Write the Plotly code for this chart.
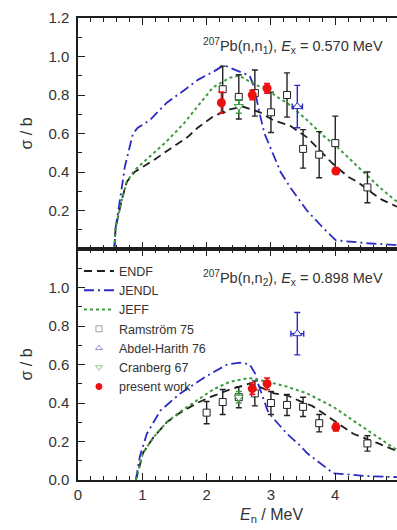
import plotly.graph_objects as go

# ---------------- evaluated cross sections, 207Pb(n,n1), Ex = 0.570 MeV
E_ENDF_N1 = [0.565, 0.585, 0.68, 0.76, 0.88, 1.17, 1.43, 1.70, 1.86, 2.11, 2.36, 2.56, 2.83, 3.03, 3.30, 3.56, 3.74, 3.94, 4.20, 4.34, 4.58, 4.73, 4.96]
S_ENDF_N1 = [0.0, 0.11, 0.255, 0.35, 0.40, 0.46, 0.52, 0.58, 0.63, 0.69, 0.725, 0.74, 0.71, 0.67, 0.64, 0.58, 0.52, 0.45, 0.375, 0.35, 0.29, 0.255, 0.22]

E_JEFF_N1 = [0.565, 0.585, 0.68, 0.76, 0.88, 1.12, 1.38, 1.64, 1.86, 2.10, 2.36, 2.51, 2.78, 2.95, 3.09, 3.25, 3.56, 3.81, 4.03, 4.34, 4.69, 4.96]
S_JEFF_N1 = [0.0, 0.11, 0.255, 0.35, 0.41, 0.48, 0.56, 0.65, 0.74, 0.84, 0.89, 0.90, 0.85, 0.83, 0.79, 0.76, 0.67, 0.59, 0.53, 0.43, 0.32, 0.245]

E_JENDL_N1 = [0.565, 0.585, 0.65, 0.73, 0.855, 0.93, 1.12, 1.38, 1.63, 1.87, 2.10, 2.27, 2.52, 2.67, 2.74, 2.82, 2.90, 3.00, 3.15, 3.30, 3.56, 3.81, 4.01, 4.50, 4.96]
S_JENDL_N1 = [0.0, 0.11, 0.25, 0.43, 0.60, 0.63, 0.67, 0.76, 0.82, 0.88, 0.92, 0.955, 0.92, 0.90, 0.84, 0.71, 0.60, 0.52, 0.40, 0.32, 0.20, 0.11, 0.045, 0.03, 0.02]

# ---------------- evaluated cross sections, 207Pb(n,n2), Ex = 0.898 MeV
E_ENDF_N2 = [0.90, 0.93, 1.01, 1.17, 1.38, 1.59, 1.85, 2.05, 2.36, 2.66, 2.85, 3.05, 3.25, 3.45, 3.64, 3.93, 4.28, 4.67, 4.96]
S_ENDF_N2 = [0.0, 0.04, 0.14, 0.22, 0.30, 0.35, 0.40, 0.43, 0.47, 0.50, 0.48, 0.45, 0.44, 0.41, 0.385, 0.32, 0.24, 0.19, 0.15]

E_JEFF_N2 = [0.90, 0.93, 1.01, 1.17, 1.38, 1.59, 1.85, 2.10, 2.36, 2.66, 2.95, 3.25, 3.56, 3.81, 3.97, 4.34, 4.65, 4.96]
S_JEFF_N2 = [0.0, 0.04, 0.14, 0.22, 0.30, 0.355, 0.415, 0.47, 0.51, 0.53, 0.51, 0.485, 0.45, 0.405, 0.38, 0.295, 0.225, 0.155]

E_JENDL_N2 = [0.90, 0.96, 1.07, 1.28, 1.59, 2.00, 2.32, 2.52, 2.67, 2.75, 2.80, 2.96, 3.25, 3.45, 3.56, 3.97, 4.50, 4.96]
S_JENDL_N2 = [0.0, 0.12, 0.24, 0.36, 0.45, 0.54, 0.60, 0.61, 0.60, 0.555, 0.50, 0.35, 0.24, 0.18, 0.14, 0.035, 0.02, 0.015]

# ---------------- measurements, (n,n1)
E_RAM_N1 = [2.25, 2.50, 2.75, 3.00, 3.25, 3.50, 3.75, 4.00, 4.50]
S_RAM_N1 = [0.83, 0.79, 0.81, 0.71, 0.80, 0.52, 0.49, 0.55, 0.32]
D_RAM_N1 = [0.12, 0.115, 0.12, 0.105, 0.115, 0.10, 0.12, 0.14, 0.08]

E_ABD_N1 = [3.41]
S_ABD_N1 = [0.74]
D_ABD_N1 = [0.11]
DE_ABD_N1 = [0.08]

E_CRA_N1 = [2.50]
S_CRA_N1 = [0.74]
D_CRA_N1 = [0.035]

E_PW_N1 = [2.23, 2.71, 2.94, 4.01]
S_PW_N1 = [0.76, 0.80, 0.835, 0.405]
D_PW_N1 = [0.055, 0.025, 0.025, 0.015]

# ---------------- measurements, (n,n2)
E_RAM_N2 = [2.00, 2.25, 2.50, 2.75, 3.00, 3.25, 3.50, 3.75, 4.50]
S_RAM_N2 = [0.35, 0.405, 0.43, 0.45, 0.40, 0.39, 0.38, 0.295, 0.19]
D_RAM_N2 = [0.058, 0.065, 0.055, 0.065, 0.06, 0.055, 0.05, 0.045, 0.04]

E_ABD_N2 = [3.41]
S_ABD_N2 = [0.76]
D_ABD_N2 = [0.11]
DE_ABD_N2 = [0.10]

E_CRA_N2 = [2.50]
S_CRA_N2 = [0.43]
D_CRA_N2 = [0.03]

E_PW_N2 = [2.71, 2.94, 4.01]
S_PW_N2 = [0.475, 0.50, 0.275]
D_PW_N2 = [0.03, 0.03, 0.02]

# tick labels
X_TICKS = [0, 1, 2, 3, 4, 5]
Y_TICKS_TOP = [0.2, 0.4, 0.6, 0.8, 1.0, 1.2]
Y_TICKS_BOTTOM = [0.0, 0.2, 0.4, 0.6, 0.8, 1.0]

FONT = "Liberation Sans, Arial, sans-serif"
AX = "#1e1e1e"
C_ENDF = "#1e1e1e"
C_JENDL = "#2a2ac4"
C_JEFF = "#3d9b3d"
C_RED = "#ee1010"

fig = go.Figure()


def add_panel(xa, ya, curves, ram, abd, cra, pw, legend):
    (e1, s1), (e2, s2), (e3, s3) = curves
    fig.add_trace(go.Scatter(x=e1, y=s1, mode="lines", name="ENDF", xaxis=xa, yaxis=ya,
                             line=dict(color=C_ENDF, width=1.8, dash="8px,5px"),
                             showlegend=legend))
    fig.add_trace(go.Scatter(x=e2, y=s2, mode="lines", name="JENDL", xaxis=xa, yaxis=ya,
                             line=dict(color=C_JENDL, width=1.8, dash="10px,4px,2px,4px"),
                             showlegend=legend))
    fig.add_trace(go.Scatter(x=e3, y=s3, mode="lines", name="JEFF", xaxis=xa, yaxis=ya,
                             line=dict(color=C_JEFF, width=2, dash="3px,3px"),
                             showlegend=legend))
    e, s, d = ram
    fig.add_trace(go.Scatter(x=e, y=s, mode="markers", xaxis=xa, yaxis=ya, showlegend=False,
                             marker=dict(symbol="square", size=7, color="white",
                                         line=dict(color="#222", width=1)),
                             error_y=dict(type="data", array=d, color="#222", thickness=1.4, width=3)))
    e, s, d, de = abd
    fig.add_trace(go.Scatter(x=e, y=s, mode="markers", xaxis=xa, yaxis=ya, showlegend=False,
                             marker=dict(symbol="triangle-up", size=8, color="white",
                                         line=dict(color=C_JENDL, width=1)),
                             error_y=dict(type="data", array=d, color=C_JENDL, thickness=1.4, width=3),
                             error_x=dict(type="data", array=de, color=C_JENDL, thickness=1.4, width=3)))
    e, s, d = cra
    fig.add_trace(go.Scatter(x=e, y=s, mode="markers", xaxis=xa, yaxis=ya, showlegend=False,
                             marker=dict(symbol="triangle-down", size=8, color="white",
                                         line=dict(color=C_JEFF, width=1)),
                             error_y=dict(type="data", array=d, color=C_JEFF, thickness=1.4, width=3)))
    e, s, d = pw
    fig.add_trace(go.Scatter(x=e, y=s, mode="markers", xaxis=xa, yaxis=ya, showlegend=False,
                             marker=dict(symbol="circle", size=9, color=C_RED),
                             error_y=dict(type="data", array=d, color=C_RED, thickness=1.6, width=3)))


add_panel("x", "y",
          [(E_ENDF_N1, S_ENDF_N1), (E_JENDL_N1, S_JENDL_N1), (E_JEFF_N1, S_JEFF_N1)],
          (E_RAM_N1, S_RAM_N1, D_RAM_N1), (E_ABD_N1, S_ABD_N1, D_ABD_N1, DE_ABD_N1),
          (E_CRA_N1, S_CRA_N1, D_CRA_N1), (E_PW_N1, S_PW_N1, D_PW_N1), False)
add_panel("x2", "y2",
          [(E_ENDF_N2, S_ENDF_N2), (E_JENDL_N2, S_JENDL_N2), (E_JEFF_N2, S_JEFF_N2)],
          (E_RAM_N2, S_RAM_N2, D_RAM_N2), (E_ABD_N2, S_ABD_N2, D_ABD_N2, DE_ABD_N2),
          (E_CRA_N2, S_CRA_N2, D_CRA_N2), (E_PW_N2, S_PW_N2, D_PW_N2), True)

# legend-only entries for the measurements (small, light symbols)
for name, sym, col in [("Ramström 75", "square-open", "#a0a0a0"),
                       ("Abdel-Harith 76", "triangle-up-open", "#9090dc"),
                       ("Cranberg 67", "triangle-down-open", "#90c490"),
                       ("present work", "circle", C_RED)]:
    fig.add_trace(go.Scatter(x=[None], y=[None], mode="markers", name=name,
                             xaxis="x2", yaxis="y2",
                             marker=dict(symbol=sym, size=6, color=col, line=dict(color=col, width=1))))

XR = [0, 4.96]
common_x = dict(range=XR, showline=True, linecolor=AX, linewidth=1.5, ticks="inside",
                ticklen=7, tickwidth=1.3, tickcolor=AX, mirror="ticks", showgrid=False,
                zeroline=False, tickvals=X_TICKS,
                minor=dict(dtick=0.2, ticklen=4, tickwidth=1.2, tickcolor=AX, ticks="inside"))
common_y = dict(range=[0, 1.2], showline=True, linecolor=AX, linewidth=1.5, ticks="inside",
                ticklen=7, tickwidth=1.3, tickcolor=AX, showgrid=False, zeroline=False,
                tickformat=".1f", ticklabelstandoff=4,
                tickfont=dict(family=FONT, size=15, color="#333"),
                title=dict(text="σ / b", font=dict(family=FONT, size=16, color="#333"), standoff=12),
                minor=dict(dtick=0.1, ticklen=4, tickwidth=1.2, tickcolor=AX, ticks="inside"))
right_y = dict(range=[0, 1.2], showline=False, ticks="inside", ticklen=7, tickwidth=1.3,
               tickcolor=AX, side="right", showgrid=False, zeroline=False, showticklabels=False,
               dtick=0.2, minor=dict(dtick=0.1, ticklen=4, tickwidth=1.2, tickcolor=AX, ticks="inside"))

fig.update_layout(
    width=397, height=530,
    margin=dict(l=78, r=0, t=18, b=50),
    paper_bgcolor="white", plot_bgcolor="white",
    font=dict(family=FONT, color="#333"),
    xaxis=dict(domain=[0, 1], anchor="y", showticklabels=False, **common_x),
    yaxis=dict(domain=[0.5, 1], anchor="x", tickvals=Y_TICKS_TOP, **common_y),
    xaxis2=dict(domain=[0, 1], anchor="y2", showticklabels=True,
                tickfont=dict(family=FONT, size=15, color="#333"), **common_x),
    yaxis2=dict(domain=[0, 0.5], anchor="x2", tickvals=Y_TICKS_BOTTOM, **common_y),
    yaxis3=dict(overlaying="y", anchor="x", **right_y),
    yaxis4=dict(overlaying="y2", anchor="x2", **right_y),
    legend=dict(x=0.003, y=0.484, xanchor="left", yanchor="top", bgcolor="rgba(0,0,0,0)",
                font=dict(family=FONT, size=12.5, color="#333"), tracegroupgap=0),
    annotations=[
        dict(text="<sup>207</sup>Pb(n,n<sub>1</sub>), <i>E</i><sub>x</sub> = 0.570 MeV",
             xref="paper", yref="paper", x=0.962, y=0.939, xanchor="right", yanchor="middle",
             showarrow=False, font=dict(family=FONT, size=14.5, color="#333")),
        dict(text="<sup>207</sup>Pb(n,n<sub>2</sub>), <i>E</i><sub>x</sub> = 0.898 MeV",
             xref="paper", yref="paper", x=0.962, y=0.437, xanchor="right", yanchor="middle",
             showarrow=False, font=dict(family=FONT, size=14.5, color="#333")),
        dict(text="<i>E</i><sub>n</sub> / MeV", xref="paper", yref="paper",
             x=0.607, y=-0.076, xanchor="center", yanchor="middle",
             showarrow=False, font=dict(family=FONT, size=16, color="#333")),
    ],
)

fig.write_html("out.html")
